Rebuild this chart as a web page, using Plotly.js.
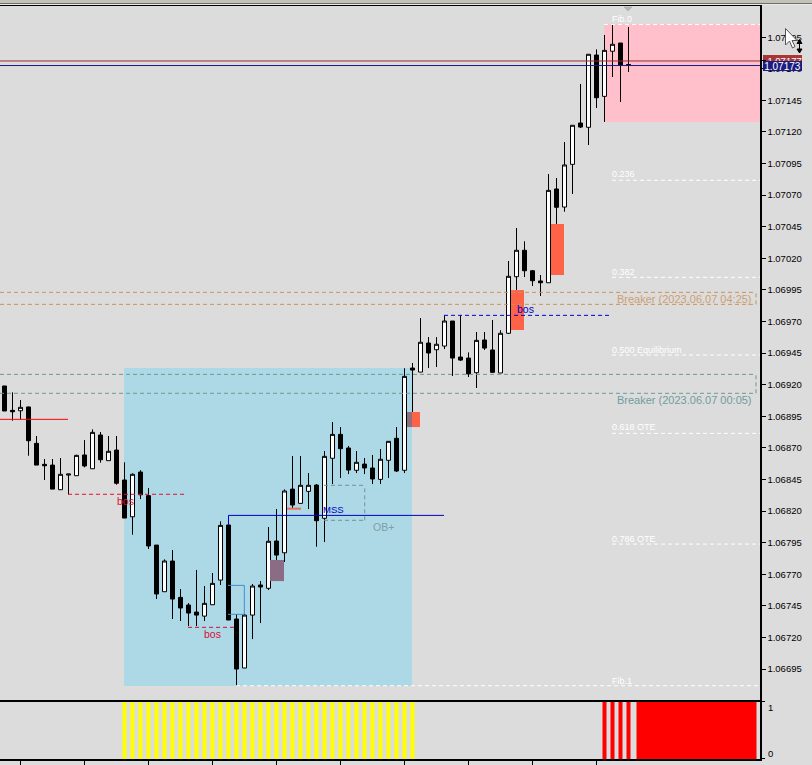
<!DOCTYPE html>
<html>
<head>
<meta charset="utf-8">
<script src="https://cdn.plot.ly/plotly-3.0.1.min.js"></script>
<style>html,body{margin:0;padding:0;background:#dcdcdc;overflow:hidden}#chart{width:812px;height:765px}</style>
</head>
<body>
<div id="chart"></div>
<script>
const bars = Array.from({length:79},(_,i)=>i);
const openP = [1.06919,1.068997,1.068994,1.069024,1.068736,1.06857,1.068564,1.068369,1.068485,1.06848,1.068644,1.068535,1.068802,1.068599,1.068683,1.068446,1.068155,1.068509,1.068322,1.067931,1.067562,1.067805,1.067517,1.067457,1.067401,1.067369,1.067459,1.067654,1.06809,1.067346,1.066958,1.067377,1.067615,1.067589,1.067963,1.06787,1.068374,1.068261,1.068356,1.068406,1.068143,1.068618,1.068807,1.068699,1.068523,1.068572,1.068541,1.068451,1.068602,1.068776,1.068523,1.069332,1.0693,1.06953,1.069477,1.069506,1.069704,1.069419,1.069411,1.069295,1.069554,1.069475,1.069293,1.069607,1.070055,1.070264,1.070102,1.070021,1.070007,1.070749,1.070606,1.070944,1.071271,1.071237,1.071809,1.071482,1.071839,1.071904,1.071726];
const highP = [1.06919,1.06914,1.069079,1.069026,1.068794,1.068612,1.068612,1.06862,1.068493,1.068646,1.068762,1.068847,1.068826,1.068794,1.068794,1.068586,1.068499,1.068523,1.068382,1.067931,1.067818,1.067892,1.067583,1.067472,1.067734,1.067607,1.06771,1.068119,1.068161,1.067385,1.067385,1.067623,1.067646,1.068074,1.068216,1.068372,1.068636,1.068636,1.068501,1.068414,1.068675,1.068905,1.068865,1.068715,1.068675,1.06862,1.068644,1.068691,1.068752,1.068865,1.06933,1.069372,1.069728,1.069577,1.069577,1.069749,1.069704,1.069752,1.069456,1.069617,1.069617,1.069712,1.069631,1.070179,1.07044,1.070335,1.070108,1.070068,1.070867,1.070836,1.071121,1.071253,1.07158,1.071817,1.071854,1.071968,1.072055,1.071904,1.072031];
const lowP = [1.068992,1.068915,1.068926,1.068638,1.068564,1.068446,1.068374,1.068367,1.068333,1.06848,1.068546,1.068535,1.068583,1.068599,1.068409,1.068145,1.068013,1.068295,1.0679,1.067504,1.067562,1.067346,1.06733,1.06729,1.06729,1.06733,1.067457,1.067615,1.067338,1.066815,1.066958,1.067187,1.067314,1.067575,1.067726,1.067797,1.068216,1.068261,1.068216,1.067918,1.067955,1.068414,1.068462,1.068493,1.068501,1.068493,1.068414,1.068414,1.068462,1.068509,1.068501,1.068984,1.0693,1.069332,1.06934,1.069482,1.069269,1.069388,1.069261,1.069174,1.069475,1.069293,1.069293,1.069601,1.069949,1.070052,1.069981,1.069902,1.070007,1.070472,1.070569,1.070709,1.071232,1.071097,1.07139,1.071279,1.071635,1.071437,1.071675];
const closeP = [1.068992,1.068986,1.069021,1.068757,1.068564,1.068559,1.068374,1.068491,1.068493,1.068641,1.068557,1.068823,1.068606,1.068673,1.06842,1.068145,1.068491,1.068329,1.067924,1.067544,1.067805,1.067504,1.067433,1.067393,1.067377,1.06747,1.067628,1.068087,1.067338,1.06695,1.067377,1.067607,1.067599,1.067961,1.067852,1.068359,1.068248,1.068404,1.068404,1.068124,1.068633,1.068807,1.068694,1.068525,1.068586,1.068541,1.068454,1.06861,1.068752,1.068517,1.069266,1.069316,1.069536,1.069451,1.06952,1.069704,1.069411,1.069395,1.069285,1.069551,1.06949,1.069298,1.069607,1.070058,1.070264,1.070102,1.070023,1.070007,1.070738,1.070604,1.070939,1.071253,1.071239,1.071815,1.071471,1.071846,1.071894,1.071728,1.071734];

const yTickVals = [1.06695,1.0672,1.06745,1.0677,1.06795,1.0682,1.06845,1.0687,1.06895,1.0692,1.06945,1.0697,1.06995,1.0702,1.07045,1.0707,1.07095,1.0712,1.07145,1.0717,1.07195];
const yTickText = ["1.06695","1.06720","1.06745","1.06770","1.06795","1.06820","1.06845","1.06870","1.06895","1.06920","1.06945","1.06970","1.06995","1.07020","1.07045","1.07070","1.07095","1.07120","1.07145","1.07170","1.07195"];
const xTickVals = [2,10,18,26,34,42,50,58,66,74];
const askPrice = 1.071762, bidPrice = 1.071726;

const fibPrices = [1.072051,1.070818,1.07005,1.069435,1.068815,1.067939,1.066818];
const fibNames = ["Fib.0","0.236","0.382","0.500 Equilibrium","0.618 OTE","0.786 OTE","Fib.1"];
const fibLabelPrices = [1.072098,1.070864,1.070092,1.069475,1.068865,1.067979,1.066855];
const fibStart = [74.94,75.94,75.94,75.94,75.94,75.94,28.94];

const yellowX = Array.from({length:37},(_,i)=>15+i);
const yellowV = yellowX.map(()=>1);
const redX = [75,76,77,78,86.5];
const redV = [1,1,1,1,1];
const redW = [0.5,0.5,0.5,0.5,15];

const L=0, T=6, R=760, B=759;
const X=p=>(p-L)/(R-L), Y=p=>(B-p)/(B-T);
const XMIN=-0.5625, XMAX=94.4375;

function rect(x0,x1,y0,y1,fill,layer){return {type:'rect',xref:'x',yref:'y',x0,x1,y0,y1,fillcolor:fill,line:{width:0},layer:layer||'above'};}
function hline(x0,x1,y,color,dash,w){return {type:'line',xref:'x',yref:'y',x0,x1,y0:y,y1:y,line:{color,width:w||1,dash:dash||'solid'},layer:'above'};}
function vline(x,y0,y1,color,dash){return {type:'line',xref:'x',yref:'y',x0:x,x1:x,y0,y1,line:{color,width:1,dash:dash||'solid'},layer:'above'};}
function chrome(x0,x1,y0,y1,fill,layer){return {type:'rect',xref:'paper',yref:'paper',x0:X(x0),x1:X(x1),y0:Y(y0),y1:Y(y1),fillcolor:fill,line:{width:0},layer:layer||'above'};}
function pathOf(pts){return pts.map((q,i)=>(i?'L':'M')+X(q[0])+','+Y(q[1])).join(' ')+' Z';}
function chromePath(pts,fill,stroke){return {type:'path',xref:'paper',yref:'paper',path:pathOf(pts),fillcolor:fill,line:{color:stroke,width:1},layer:'above'};}

const D='4px,3px';
const shapes=[
  rect(14.94,50.94,1.066816,1.069332,'#ADD8E6','below'),
  rect(74.94,XMAX,1.071279,1.072055,'#FFC0CB','below'),
  rect(50.31,50.94,1.068865,1.068984,'#8c7080'),
  rect(50.94,51.94,1.068865,1.068984,'#FF6347'),
  rect(63.31,64.94,1.069633,1.069949,'#FF6347'),
  rect(68.31,69.94,1.070068,1.070472,'#FF6347'),
  rect(33.19,34.94,1.067646,1.067813,'#8a6c84'),
  hline(XMIN,7.94,1.068926,'#ff0000'),
  hline(7.94,22.56,1.068333,'#e01030',D),
  hline(22.94,28.94,1.06728,'#d01040',D),
  hline(28,54.94,1.068166,'#0000c0'),
  vline(28,1.068166,1.06809,'#0000c0'),
  hline(35.31,37.06,1.068219,'#f06a55','solid',2),
  hline(27.94,29.98,1.067612,'#3f8fd2'),
  hline(27.94,29.98,1.067383,'#3f8fd2'),
  vline(29.98,1.067383,1.067612,'#3f8fd2'),
  hline(39.94,45.03,1.068404,'#6f9494',D),
  hline(39.94,45.03,1.068127,'#6f9494',D),
  vline(45.03,1.068127,1.068404,'#6f9494',D),
  hline(XMIN,93.94,1.069931,'#c8925f',D),
  hline(XMIN,93.94,1.069836,'#c8925f',D),
  vline(93.94,1.069836,1.069931,'#c8925f',D),
  hline(XMIN,93.94,1.069282,'#6f9a8c',D),
  hline(XMIN,93.94,1.069132,'#6f9a8c',D),
  vline(93.94,1.069132,1.069282,'#6f9a8c',D),
  hline(54.94,75.56,1.069749,'#0000d0',D),
  ...fibPrices.map((p,i)=>hline(fibStart[i],XMAX,p,'#ffffff',D)),
  hline(XMIN,XMAX,askPrice,'#9a2c2c'),
  hline(XMIN,XMAX,bidPrice,'#1a1a90'),
  chrome(0,812,0,3,'#c2c2ba'),
  chrome(0,812,3,4,'#6e6e66'),
  chrome(0,812,4,5,'#ecece4'),
  chromePath([[624,7],[632,7],[628,11]],'#b4b4b4','#b4b4b4'),
  chrome(763,802,55,62,'#a83636','below'),
  chrome(763,802,61,71,'#1c1c80'),
  chromePath([[785.5,28.5],[785.5,45],[789.5,41],[792.5,48],[795,46.5],[792,40.5],[797,40.5]],'#ffffff','#555555'),
  chromePath([[797,43.5],[799.5,39.5],[802,43.5]],'#000000','#000000'),
  chromePath([[797,49],[799.5,53],[802,49]],'#000000','#000000'),
  {type:'line',xref:'paper',yref:'paper',x0:X(799.5),x1:X(799.5),y0:Y(42),y1:Y(50),line:{color:'#000',width:1},layer:'above'}
];

function ann(x,y,text,color,size){return {xref:'x',yref:'y',x,y,text,showarrow:false,xanchor:'left',yanchor:'middle',borderpad:0,font:{family:'Liberation Sans, Arial, sans-serif',size,color}};}
function pann(px,py,text,color,size){return {xref:'paper',yref:'paper',x:X(px),y:Y(py),text,showarrow:false,xanchor:'left',yanchor:'middle',borderpad:0,font:{family:'Liberation Sans, Arial, sans-serif',size,color}};}
const annotations=[
  ...fibNames.map((n,i)=>ann(75.75,fibLabelPrices[i],n,'#ffffff',9)),
  ann(76.44,1.069878,'Breaker (2023.06.07 04:25)','#cf9f70',11),
  ann(76.44,1.069079,'Breaker (2023.06.07 00:05)','#6f9d9d',11),
  ann(13.9,1.068282,'bos','#d81030',10.5),
  ann(24.85,1.067227,'bos','#d81030',10.5),
  ann(39.69,1.068216,'MSS','#0000c8',9.5),
  ann(45.9,1.068076,'OB+','#7f9f9f',10.5),
  ann(63.9,1.069797,'bos','#0000c8',10.5),
  {xref:'paper',yref:'paper',x:X(763),y:Y(61),xanchor:'left',yanchor:'top',width:39,height:10,align:'center',valign:'middle',
   bgcolor:'#1c1c80',borderpad:0,borderwidth:0,showarrow:false,text:'1.07173',font:{family:'Liberation Sans, Arial, sans-serif',size:10,color:'#ffffff'}},
  pann(767,707,'1','#000000',9.5),
  pann(767,753,'0','#000000',9.5)
];

const traces=[
 {type:'candlestick',x:bars,open:openP,high:highP,low:lowP,close:closeP,xaxis:'x',yaxis:'y',whiskerwidth:0,
  increasing:{line:{color:'#000000',width:1},fillcolor:'#ffffff'},
  decreasing:{line:{color:'#000000',width:1},fillcolor:'#000000'},
  hoverinfo:'skip',showlegend:false},
 {type:'bar',x:yellowX,y:yellowV,width:0.5,marker:{color:'#FFFF00',line:{width:0}},xaxis:'x2',yaxis:'y2',hoverinfo:'skip',showlegend:false},
 {type:'bar',x:redX,y:redV,width:redW,marker:{color:'#FF0000',line:{width:0}},xaxis:'x2',yaxis:'y2',hoverinfo:'skip',showlegend:false}
];

const layout={
  width:812,height:765,margin:{l:0,r:52,t:6,b:6,pad:0},
  paper_bgcolor:'#DCDCDC',plot_bgcolor:'#DCDCDC',showlegend:false,hovermode:false,
  boxgap:0.5,boxgroupgap:0,barmode:'overlay',dragmode:false,
  font:{family:'Liberation Sans, Arial, sans-serif',color:'#000'},
  xaxis:{domain:[0,1],range:[XMIN,XMAX],anchor:'y',showgrid:false,zeroline:false,showticklabels:false,ticks:'',
    showline:true,mirror:true,linecolor:'#000',linewidth:1.5,rangeslider:{visible:false},fixedrange:true},
  yaxis:{domain:[0.07835,1],range:[1.066705,1.072197],anchor:'x',side:'right',showgrid:false,zeroline:false,
    showline:true,linecolor:'#000',linewidth:1.5,ticks:'outside',ticklen:4,tickcolor:'#000',tickwidth:1,
    tickmode:'array',tickvals:[...yTickVals,askPrice],
    ticktext:[...yTickText,'<span style="color:#ffffff">1.07177</span>'],
    tickfont:{family:'Liberation Sans, Arial, sans-serif',size:9.5,color:'#000'},fixedrange:true},
  xaxis2:{domain:[0,1],range:[XMIN,XMAX],anchor:'y2',showgrid:false,zeroline:false,showticklabels:false,
    ticks:'outside',ticklen:4,tickcolor:'#000',tickmode:'array',tickvals:xTickVals,showline:true,linecolor:'#000',linewidth:1.5,fixedrange:true},
  yaxis2:{domain:[0,0.0757],range:[0,1],anchor:'x2',side:'right',showgrid:false,zeroline:false,showticklabels:false,
    showline:true,linecolor:'#000',linewidth:1.5,ticks:'outside',ticklen:3,tickcolor:'#000',tickmode:'array',tickvals:[0,1],fixedrange:true},
  shapes,annotations
};
Plotly.newPlot('chart',traces,layout,{displayModeBar:false,staticPlot:true});
</script>
</body>
</html>
